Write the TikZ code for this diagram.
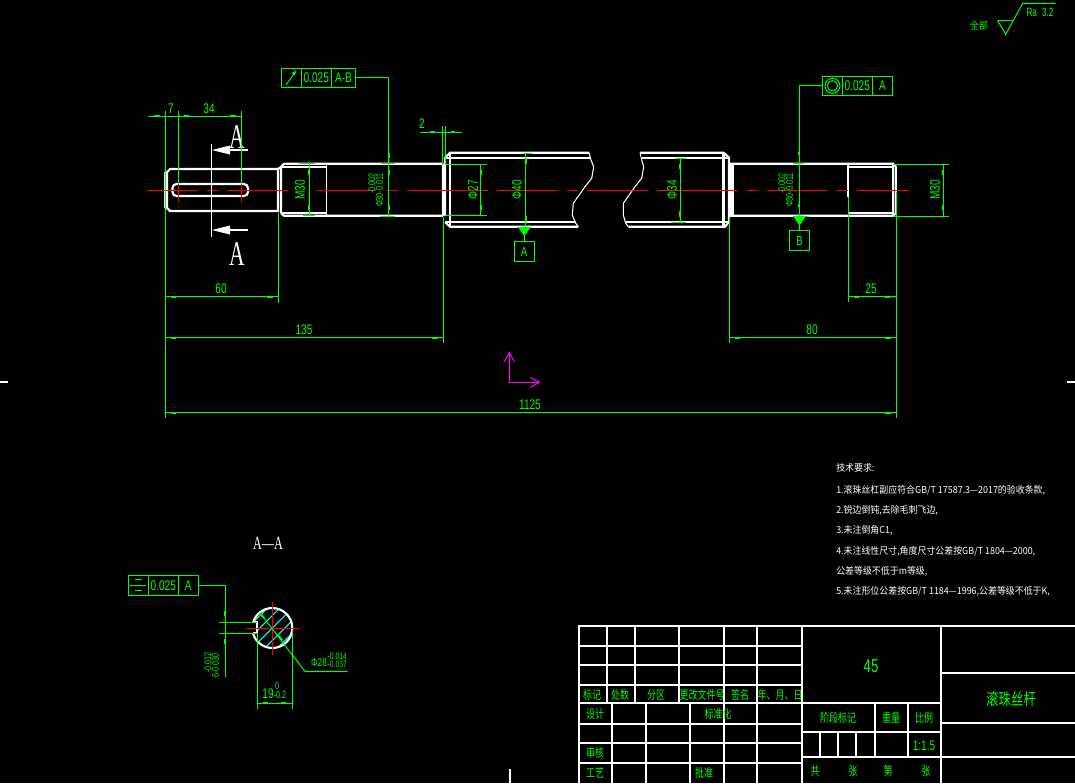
\documentclass[tikz,border=0pt]{standalone}
\usepackage{fontspec}
\setmainfont{Liberation Sans}
\newfontfamily\cjkf{Noto Sans CJK SC}
\newfontfamily\serf{Liberation Serif}
\definecolor{cadgreen}{RGB}{0,255,0}
\definecolor{cadred}{RGB}{255,0,0}
\definecolor{cadcyan}{RGB}{0,255,255}
\definecolor{cadmag}{RGB}{255,0,255}
\tikzset{
  gl/.style={draw=cadgreen,line width=.75pt},
  stub/.style={draw=cadgreen,line width=1.5pt},
  wthick/.style={draw=white,line width=1.6pt},
  wthin/.style={draw=white,line width=.8pt},
  rl/.style={draw=cadred,line width=.75pt},
  gt/.style={text=cadgreen,inner sep=0pt,xscale=.72,font=\fontsize{10.5}{11}\selectfont},
  gts/.style={text=cadgreen,inner sep=0pt,xscale=.72,font=\fontsize{7.5}{8}\selectfont},
  cj/.style={text=cadgreen,inner sep=0pt,xscale=.75,font=\cjkf\fontsize{9}{10}\selectfont},
  wt/.style={text=white,inner sep=0pt,anchor=west,xscale=.93,font=\cjkf\fontsize{7.2}{9}\selectfont},
  bigA/.style={text=white,inner sep=0pt,xscale=.62,font=\serf\fontsize{26}{28}\selectfont},
  fcell/.style 2 args={draw=cadgreen,line width=.75pt,inner sep=0pt,text=cadgreen,
     minimum width=#1*.75pt,minimum height=#2*.75pt,font=\fontsize{10.5}{11}\selectfont},
}
\newcommand{\tol}[2]{\begin{tabular}{@{}l@{}}#1\\[-2.5pt]#2\end{tabular}}
\begin{document}
\begin{tikzpicture}[x=.75pt,y=-.75pt]
\useasboundingbox (0,0) rectangle (1075,783);
\fill[black] (0,0) rectangle (1075,783);

% ---- shaft outline
\draw[wthick] (170,169) -- (278,169) -- (278,211) -- (170,211) -- (167,208) -- (167,172) -- cycle;
\draw[wthin] (165,172) -- (165,208);
\draw[wthick,rounded corners=3pt] (172.5,184) rectangle (248,196);
\draw[wthick] (284,163.7) -- (443,163.7) (281,213) -- (281,167) -- (284,163.7) (281,213) -- (284,215.7) -- (443,215.7);
\draw[wthick] (443,163.7) -- (443,215.7) (278,169) -- (281,167);
\draw[wthin] (281,167) -- (326.7,167) (281,213) -- (326.7,213) (326.7,163.7) -- (326.7,215.7);
% lead screw, left part
\draw[wthick] (445,216) -- (445,158) -- (450,152.7) -- (589,152.7);
\draw[wthick] (445,222) -- (450,226.7) -- (578.3,226.7);
\draw[wthick] (450,152.7) -- (450,226.7);
\draw[wthin] (445,158) -- (591,158) (445,222) -- (576,222);
\draw[wthin] (589,152.7) -- (591,160) -- (593.7,166.7) -- (591.7,178.3) -- (585,186.7) -- (573.3,203.3) -- (572.3,215) -- (575.7,223.3) -- (578.3,226.7);
% lead screw, right part
\draw[wthin] (640,152.7) -- (641.7,160) -- (643.7,166.7) -- (641.7,178.3) -- (635,186.7) -- (623.3,203.3) -- (623.3,215) -- (625.7,223.3) -- (628.3,226.7);
\draw[wthick] (640,152.7) -- (723.5,152.7) -- (729,157.5) -- (729,222) -- (725,226.7) -- (628.3,226.7);
\draw[wthick] (723.5,152.7) -- (723.5,226.7);
\draw[wthin] (641.5,158) -- (729,158) (626,222) -- (729,222);
% right journal
\draw[wthick] (731,163.7) -- (893,163.7) -- (895.7,166.5) -- (895.7,213.5) -- (893,215.7) -- (731,215.7) -- cycle;
\draw[wthick] (733,163.7) -- (733,215.7) (893,163.7) -- (893,215.7);
\draw[wthin] (848,167) -- (893,167) (848,213) -- (893,213) (848,163.7) -- (848,197);

% ---- centre lines
\foreach \a/\b in {147/198,207/218,227/288,317/376,387/398,407/488,497/558,567/578,587/648,657/738,747/758,767/828,837/848,857/909}
  \draw[rl] (\a,190) -- (\b,190);
\draw[rl] (178.7,183) -- (178.7,201.7) (241.3,183) -- (241.3,201.7);

% ---- section arrows
\draw[wthin] (211.3,144) -- (211.3,236.7);
\draw[wthin] (225,150) -- (248,150) (225,230) -- (248,230);
\fill[white] (212,150) -- (230,145.5) -- (230,154.5) -- cycle;
\fill[white] (212,230) -- (230,225.5) -- (230,234.5) -- cycle;
\node[bigA] (sa) at (237,137) {A};
\node[bigA] (sb) at (237,254) {A};

% ---- dimensions, left
\draw[gl] (165.5,111) -- (165.5,418) (178.7,111) -- (178.7,184) (241.3,111) -- (241.3,184);
\draw[gl] (148,116.3) -- (241.3,116.3);
\draw[stub] (154,116.3) -- (160,116.3) (183.5,116.3) -- (189,116.3) (230,116.3) -- (236,116.3);
\node[gt] (d7) at (171,109) {7};
\node[gt] (d34) at (209,109) {34};

\draw[gl] (309.3,164) -- (309.3,216) (299,163.7) -- (315,163.7) (303,215.7) -- (315,215.7);
\draw[stub] (309,170) -- (309,175) (309,205) -- (309,210);
\node[rotate=90,gt] (m1) at (300,190) {M30};

\draw[gl] (388.7,78) -- (388.7,216) (381,163.7) -- (395,163.7) (380,216) -- (395,216);
\draw[stub] (388.7,153) -- (388.7,158) (388.7,170) -- (388.7,175) (388.7,205) -- (388.7,210);
\node[rotate=90,gts] (p1) at (377,190) {\tol{\hspace*{14pt}-0.002}{Φ30-0.011}};

\draw[gl] (420,132.3) -- (461.7,132.3) (442.7,126) -- (442.7,165) (445.3,126) -- (445.3,165);
\draw[stub] (430,132.3) -- (435,132.3) (451,132.3) -- (455,132.3);
\node[gt] (d2) at (422,124) {2};

\draw[gl] (445,164) -- (487,164) (445,215.5) -- (487,215.5) (480.3,164) -- (480.3,215.5);
\draw[stub] (480.5,170) -- (480.5,175) (480.5,205) -- (480.5,210);
\node[rotate=90,gt] (p27) at (473,190) {Φ27};

\draw[gl] (525.3,153) -- (525.3,227) (524,153) -- (531.7,153);
\draw[stub] (525.8,158) -- (525.8,164) (525.8,216) -- (525.8,222);
\node[rotate=90,gt] (p40) at (517,190) {Φ40};

\draw[gl] (680.3,158) -- (680.3,222) (676,158) -- (686,158) (671,222) -- (686,222);
\draw[stub] (680,164) -- (680,169) (680,211) -- (680,217);
\node[rotate=90,gt] (p34) at (672,190) {Φ34};

\draw[gl] (278,213) -- (278,303) (443,217) -- (443,343) (729.5,217) -- (729.5,343) (896,192) -- (896,418) (848,197) -- (848,302);
\draw[gl] (165.5,296.4) -- (278,296.4) (165.5,337.4) -- (443,337.4) (729.5,337.4) -- (896,337.4) (848,296.4) -- (896,296.4) (165.5,412.4) -- (896,412.4);
\draw[stub] (171,297) -- (176,297) (267,297) -- (273,297) (171,338) -- (176,338) (432,338) -- (438,338)
  (735,338) -- (740,338) (885,338) -- (891,338) (854,297) -- (859,297) (885,297) -- (890,297)
  (171,413) -- (176,413) (885,413) -- (891,413);
\node[gt] (d60) at (221,288.5) {60};
\node[gt] (d135) at (304,330) {135};
\node[gt] (d80) at (812,330) {80};
\node[gt] (d25) at (871,289) {25};
\node[gt] (d1125) at (530,405) {1125};

% ---- dimensions, right
\draw[gl] (893,164) -- (949,164) (893,216) -- (949,216) (943.3,164) -- (943.3,216);
\draw[stub] (943,170) -- (943,175) (943,205) -- (943,210);
\node[rotate=90,gt] (m2) at (935,190) {M30};
\draw[gl] (793,163.7) -- (804,163.7);
\draw[stub] (799,152) -- (799,155) (799,204) -- (799,207);
\node[rotate=90,gts] (p2) at (787,190) {\tol{\hspace*{14pt}-0.002}{Φ30-0.011}};

% ---- geometric tolerance frames
\node[fcell={20}{19}] (f1a) at (291.3,77.8) {};
\node[fcell={30}{19}] (f1b) at (316.3,77.8) {\scalebox{.72}[1]{0.025}};
\node[fcell={24.5}{19}] (f1c) at (343.5,77.8) {\scalebox{.72}[1]{A-B}};
\coordinate (k1) at (388.7,77.8);
\draw[gl] (f1c.east) -- (k1);
\draw[gl] (286,85) -- (296,71);
\fill[cadgreen] (296,71) -- (291.5,73) -- (294.5,75.5) -- cycle;

\node[fcell={20}{19}] (f2a) at (832.3,85.8) {};
\node[fcell={30}{19}] (f2b) at (857.3,85.8) {\scalebox{.72}[1]{0.025}};
\node[fcell={20.4}{19}] (f2c) at (882.5,85.8) {\scalebox{.72}[1]{A}};
\coordinate (k2) at (799.3,85.8);
\draw[gl] (f2a.west) -- (k2) -- (799.3,216);
\draw[gl] (832.5,85.8) circle[radius=7.5] (832.5,85.8) circle[radius=5.2];

\node[fcell={20}{20},font=\fontsize{10}{11}\selectfont] (dA) at (524,251.8) {\scalebox{.72}[1]{A}};
\node[fcell={20.4}{19.3},font=\fontsize{10}{11}\selectfont] (dB) at (799.5,240.6) {\scalebox{.72}[1]{B}};
\coordinate (tA) at (524,235);
\coordinate (tB) at (799.5,225);
\draw[gl] (dA) -- (tA);
\draw[gl] (dB) -- (tB);
\fill[cadgreen] (518,227) -- (531,227) -- (524.3,236) -- cycle;
\draw[gl] (517,227) -- (531,227);
\fill[cadgreen] (793,216) -- (806,216) -- (799.5,225.5) -- cycle;
\draw[gl] (793,216) -- (809,216);

% ---- UCS icon
\draw[cadmag,line width=.8pt] (509.3,352.7) -- (509.3,382.3) -- (539.3,382.3);
\draw[cadmag,line width=.8pt] (504.3,361.5) -- (509.3,352.7) -- (514.3,361.5) (530.5,377.3) -- (539.3,382.3) -- (530.5,387.3);

% ---- edge ticks
\draw[wthick] (0,382) -- (8,382) (1067,382) -- (1075,382) (510,769) -- (510,783);

% ---- section A-A
\node[text=white,inner sep=0pt,xscale=.65,font=\serf\fontsize{14}{15}\selectfont] (aa) at (268,543) {A—A};
\begin{scope}
  \clip (272.3,628) circle[radius=20];
  \foreach \i in {-5,...,5}
    \draw[cadcyan,line width=.75pt] ({272.3+\i*12.5-40},668) -- ({272.3+\i*12.5+40},588);
  \fill[black] (245,622.3) rectangle (257,633.3);
  \fill[black] (292.5,600) rectangle (300,660);
\end{scope}
\begin{scope}
  \clip (257,600) rectangle (293,660) (245,600) rectangle (257,622.3) (245,633.3) rectangle (257,660);
  \draw[wthick] (272.3,628) circle[radius=20];
\end{scope}
\draw[wthick] (253,622.3) -- (257,622.3) -- (257,633.3) -- (253,633.3);
\draw[rl] (246,628) -- (299,628) (272.3,602) -- (272.3,655);
\node[fcell={20}{20}] (f3a) at (138.3,585.3) {};
\node[fcell={30}{20}] (f3b) at (163.3,585.3) {\scalebox{.72}[1]{0.025}};
\node[fcell={20}{20}] (f3c) at (188.3,585.3) {\scalebox{.72}[1]{A}};
\coordinate (k3) at (225.7,585.3);
\draw[gl] (f3c.east) -- (k3) -- (225.7,676.7);
\draw[gl] (135,579.5) -- (142,579.5) (130,585.3) -- (146,585.3) (135,590.5) -- (142,590.5);
\draw[gl] (219,622.3) -- (257,622.3) (219,633.3) -- (257,633.3);
\draw[stub] (225,611) -- (225,616) (225,639) -- (225,644);
\node[rotate=90,gts] (t6) at (213,665) {\tol{\hspace*{5pt}-0.012}{6-0.030}};
\draw[gl] (260,613) -- (305,671.3) -- (347.7,671.3);
\draw[stub] (260,613) -- (264,618) (278,635) -- (282,640);
\node[gt,anchor=east,font=\fontsize{8.5}{9}\selectfont] (t28) at (327,663) {Φ28};
\node[gts,anchor=west,font=\fontsize{7}{8}\selectfont] (t28a) at (327.5,656) {-0.014};
\node[gts,anchor=west,font=\fontsize{7}{8}\selectfont] (t28b) at (327.5,664) {-0.037};
\draw[gl] (257,633) -- (257,709) (292.5,630) -- (292.5,709) (257,703.3) -- (292.5,703.3);
\draw[stub] (263,703.3) -- (268,703.3) (281,703.3) -- (286,703.3);
\node[gt] (t19) at (268,694) {19};
\node[gts] (t19a) at (277,686) {0};
\node[gts] (t19b) at (280,695) {-0.2};

% ---- roughness
\node[cj,font=\cjkf\fontsize{7.5}{8}\selectfont,xscale=1.2] (rq) at (979,25.5) {全部};
\coordinate (ra) at (997.7,20.7);
\coordinate (rb) at (1013.3,20.7);
\coordinate (rc) at (1005.7,34.3);
\coordinate (rd) at (1022.7,3.3);
\coordinate (re) at (1055.7,3.3);
\draw[gl] (ra) -- (rb) (ra) -- (rc) -- (rd) -- (re);
\node[gt,font=\fontsize{9}{10}\selectfont,xscale=.95] (rt) at (1040,12) {Ra\,\, 3.2};

% ---- notes
\node[wt] (n1) at (836,468) {技术要求:};
\node[wt] (n2) at (836,490) {1.滚珠丝杠副应符合GB/T 17587.3—2017的验收条款,};
\node[wt] (n3) at (836,510) {2.锐边倒钝,去除毛刺飞边,};
\node[wt] (n4) at (836,530) {3.未注倒角C1,};
\node[wt] (n5) at (836,551) {4.未注线性尺寸,角度尺寸公差按GB/T 1804—2000,};
\node[wt] (n6) at (836,571) {公差等级不低于m等级,};
\node[wt] (n7) at (836,591) {5.未注形位公差按GB/T 1184—1996,公差等级不低于K,};

% ---- title block
\draw[wthick] (579,783) -- (579,626) -- (1075,626);
\draw[wthick] (802,626) -- (802,783) (941,626) -- (941,783);
\draw[wthick] (579,703) -- (941,703) (941,673) -- (1075,673) (941,723) -- (1075,723) (802,757) -- (1075,757);
\draw[wthin] (579,646) -- (802,646) (579,665) -- (802,665) (579,685) -- (802,685);
\foreach \x in {607,635,679,724,757} \draw[wthin] (\x,626) -- (\x,703);
\draw[wthick] (579,724) -- (802,724) (579,743) -- (802,743) (579,763) -- (802,763);
\foreach \x in {612,646,724,757} \draw[wthin] (\x,703) -- (\x,783);
\draw[wthick] (690,703) -- (690,783);
\draw[wthin] (802,732) -- (941,732);
\draw[wthick] (875,703) -- (875,757) (908,703) -- (908,757);
\foreach \x in {820,838,856} \draw[wthin] (\x,732) -- (\x,757);

\foreach \n/\x/\y/\t in {a1/592/695/标记,a2/620/695/处数,a3/656/695/分区,a4/702/695/更改文件号,a5/740/695/签名,a6/780/695/年、月、日,
  b1/595/714/设计,b2/718/714/标准化,b3/595/753/审核,b4/595/773/工艺,b5/704/773/批准,
  c1/838/718/阶段标记,c2/891/718/重量,c3/924/718/比例,
  e1/815/771/共,e2/853/771/张,e3/888/771/第,e4/926/771/张}
  \node[cj] (\n) at (\x,\y) {\t};
\node[text=cadgreen,inner sep=0pt,xscale=.7,font=\fontsize{14}{15}\selectfont] (m45) at (871,666) {45};
\node[gt] (sc) at (924,746) {1:1.5};
\node[cj,font=\cjkf\fontsize{12.5}{14}\selectfont] (ttl) at (1011,699) {滚珠丝杆};
\end{tikzpicture}
\end{document}
